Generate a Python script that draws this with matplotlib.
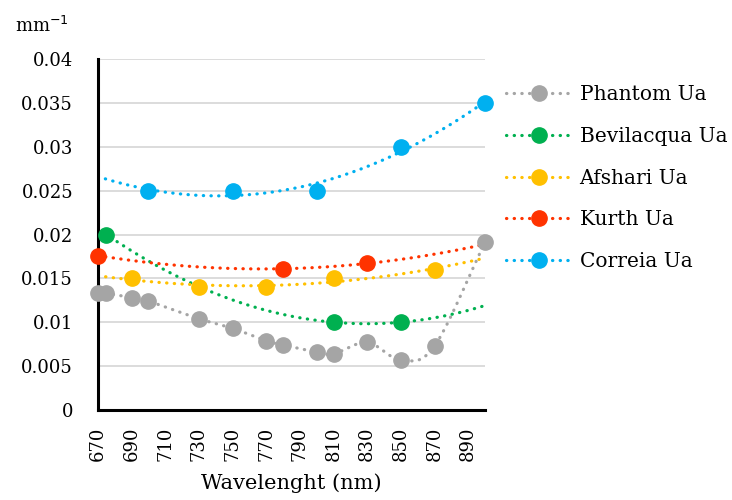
import numpy as np
import matplotlib
matplotlib.use("Agg")
import matplotlib.pyplot as plt
from matplotlib.lines import Line2D

plt.rcParams["font.family"] = ["DejaVu Serif"]

# data
phantom_nm = [670, 675, 690, 700, 730, 750, 770, 780, 800, 810, 830, 850, 870, 900]
phantom_ua = [0.0133, 0.0133, 0.0128, 0.0124, 0.0104, 0.0093, 0.0079, 0.0074,
              0.0066, 0.0064, 0.0077, 0.0057, 0.0073, 0.0191]
bevilacqua_nm = [675, 810, 850]
bevilacqua_ua = [0.020, 0.010, 0.010]
afshari_nm = [690, 730, 770, 810, 870]
afshari_ua = [0.015, 0.014, 0.014, 0.015, 0.016]
kurth_nm = [670, 780, 830]
kurth_ua = [0.0176, 0.0161, 0.0167]
correia_nm = [700, 750, 800, 850, 900]
correia_ua = [0.025, 0.025, 0.025, 0.030, 0.035]

series = [
    ("Phantom Ua", phantom_nm, phantom_ua, "#A5A5A5"),
    ("Bevilacqua Ua", bevilacqua_nm, bevilacqua_ua, "#00B050"),
    ("Afshari Ua", afshari_nm, afshari_ua, "#FFC000"),
    ("Kurth Ua", kurth_nm, kurth_ua, "#FF3300"),
    ("Correia Ua", correia_nm, correia_ua, "#00B0F0"),
]

x_min, x_max = 670, 900
dot_style = (0, (0.1, 2.3))
lw = 2.3
ms = 11


def smooth_curve(xs, ys, n=20):
    # catmull-rom style smoothing for the phantom series line
    xs = np.asarray(xs, float)
    ys = np.asarray(ys, float)
    px = np.concatenate([[2 * xs[0] - xs[1]], xs, [2 * xs[-1] - xs[-2]]])
    py = np.concatenate([[2 * ys[0] - ys[1]], ys, [2 * ys[-1] - ys[-2]]])
    out_x, out_y = [], []
    for i in range(1, len(px) - 2):
        t = np.linspace(0, 1, n, endpoint=False)
        mx0 = (px[i + 1] - px[i - 1]) / 2
        mx1 = (px[i + 2] - px[i]) / 2
        my0 = (py[i + 1] - py[i - 1]) / 2
        my1 = (py[i + 2] - py[i]) / 2
        h00 = 2 * t**3 - 3 * t**2 + 1
        h10 = t**3 - 2 * t**2 + t
        h01 = -2 * t**3 + 3 * t**2
        h11 = t**3 - t**2
        out_x.append(h00 * px[i] + h10 * mx0 + h01 * px[i + 1] + h11 * mx1)
        out_y.append(h00 * py[i] + h10 * my0 + h01 * py[i + 1] + h11 * my1)
    out_x.append([xs[-1]])
    out_y.append([ys[-1]])
    return np.concatenate(out_x), np.concatenate(out_y)


fig = plt.figure(figsize=(7.32, 5.0), dpi=100)
ax = fig.add_axes([98 / 732, 1 - 410 / 500, 387 / 732, 351 / 500])

handles = []
for name, nm, ua, color in series:
    if name == "Phantom Ua":
        cx, cy = smooth_curve(nm, ua)
    else:
        coef = np.polyfit(nm, ua, 2)
        cx = np.linspace(x_min, x_max, 200)
        cy = np.polyval(coef, cx)
    ax.plot(cx, cy, color=color, lw=lw, linestyle=dot_style,
            dash_capstyle="round", zorder=2)
    ax.plot(nm, ua, "o", color=color, ms=ms, mec=color, zorder=3, clip_on=False)
    handles.append(Line2D([], [], color=color, lw=lw, linestyle=dot_style,
                          dash_capstyle="round", marker="o", ms=ms, mec=color,
                          label=name))

ax.set_xlim(x_min, x_max)
ax.set_ylim(0, 0.04)
ax.set_xticks(np.arange(670, 891, 20))
ax.set_yticks(np.arange(0, 0.0401, 0.005))
ax.set_yticklabels(["0", "0.005", "0.01", "0.015", "0.02", "0.025", "0.03",
                    "0.035", "0.04"])
ax.tick_params(axis="both", length=0, labelsize=13)
ax.tick_params(axis="y", pad=18)
ax.tick_params(axis="x", pad=12, labelrotation=90)
ax.grid(axis="y", color="#D9D9D9", lw=1.3)
ax.set_axisbelow(True)
for side in ["top", "right"]:
    ax.spines[side].set_visible(False)
for side in ["left", "bottom"]:
    ax.spines[side].set_linewidth(2.2)
    ax.spines[side].set_color("black")

ax.set_xlabel("Wavelenght (nm)", fontsize=15, labelpad=9)
fig.text(15 / 732, 1 - 26 / 500, "mm$^{-1}$", fontsize=13, va="center",
         ha="left")

fig.legend(handles=handles, loc="upper left",
           bbox_to_anchor=(498 / 732, 1 - 77 / 500), frameon=False,
           fontsize=14.5, handlelength=3.3, handletextpad=0.35,
           labelspacing=1.13, numpoints=1, borderaxespad=0)

fig.savefig("out.png", dpi=100)
